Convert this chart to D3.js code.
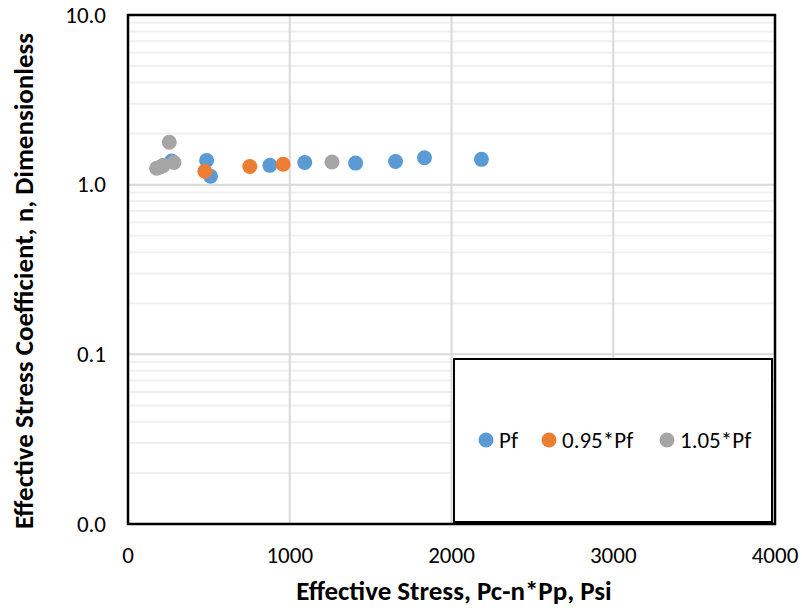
<!DOCTYPE html>
<html>
<head>
<meta charset="utf-8">
<script src="https://cdn.jsdelivr.net/npm/d3@7"></script>
<style>
  body { margin: 0; background: #fff; }
  text { font-family: Carlito, "Open Sans", "Liberation Sans", sans-serif; fill: #000; }
</style>
</head>
<body>
<div id="chart"></div>
<script>
// data
const seriesNames = ['Pf', '0.95*Pf', '1.05*Pf'];
const pfX = [270, 486, 510, 877, 1093, 1407, 1654, 1833, 2185];
const pfY = [1.38, 1.39, 1.12, 1.30, 1.35, 1.34, 1.37, 1.44, 1.41];
const p95X = [475, 753, 959];
const p95Y = [1.20, 1.28, 1.32];
const p105X = [177, 200, 218, 255, 284, 1261];
const p105Y = [1.25, 1.27, 1.30, 1.78, 1.35, 1.36];
const xTicks = [0, 1000, 2000, 3000, 4000];
const yTicks = [0.01, 0.1, 1, 10];

const colors = ['#5b9bd5', '#ed7d31', '#a5a5a5'];
const width = 802, height = 608;
const margin = { top: 15, right: 27, bottom: 84, left: 128 };

const svg = d3.select('#chart').append('svg')
  .attr('width', width)
  .attr('height', height);

const x = d3.scaleLinear().domain([0, 4000]).range([margin.left, width - margin.right]);
const y = d3.scaleLog().domain([0.01, 10]).range([height - margin.bottom, margin.top]);

// minor horizontal grid (2..9 in each decade)
const minor = [];
[0.01, 0.1, 1].forEach(d => { for (let k = 2; k <= 9; k++) minor.push(d * k); });
svg.append('g').selectAll('line').data(minor).enter().append('line')
  .attr('x1', x(0)).attr('x2', x(4000))
  .attr('y1', d => y(d)).attr('y2', d => y(d))
  .attr('stroke', '#f0f0f0').attr('stroke-width', 2);

// major grid
svg.append('g').selectAll('line').data([0.1, 1]).enter().append('line')
  .attr('x1', x(0)).attr('x2', x(4000))
  .attr('y1', d => y(d)).attr('y2', d => y(d))
  .attr('stroke', '#d9d9d9').attr('stroke-width', 2);
svg.append('g').selectAll('line').data([1000, 2000, 3000]).enter().append('line')
  .attr('y1', y(0.01)).attr('y2', y(10))
  .attr('x1', d => x(d)).attr('x2', d => x(d))
  .attr('stroke', '#d9d9d9').attr('stroke-width', 2);

// frame
svg.append('rect')
  .attr('x', x(0)).attr('y', y(10))
  .attr('width', x(4000) - x(0)).attr('height', y(0.01) - y(10))
  .attr('fill', 'none').attr('stroke', '#000').attr('stroke-width', 2.5);

// tick labels
svg.append('g').selectAll('text').data(yTicks).enter().append('text')
  .attr('x', x(0) - 22).attr('y', d => y(d))
  .attr('dy', '0.33em').attr('text-anchor', 'end')
  .style('font-size', '23px')
  .text(d => d3.format('.1f')(d));

svg.append('g').selectAll('text').data(xTicks).enter().append('text')
  .attr('x', d => x(d)).attr('y', 563)
  .attr('text-anchor', 'middle')
  .style('font-size', '23px')
  .text(d => d);

// axis titles
svg.append('text')
  .attr('x', 454).attr('y', 600)
  .attr('text-anchor', 'middle')
  .style('font-size', '27px').style('font-weight', 'bold')
  .text('Effective Stress, Pc-n*Pp, Psi');

svg.append('text')
  .attr('transform', 'translate(33, 281) rotate(-90)')
  .attr('text-anchor', 'middle')
  .style('font-size', '27px').style('font-weight', 'bold')
  .text('Effective Stress Coefficient, n, Dimensionless');

// legend box
const legend = svg.append('g');
legend.append('rect')
  .attr('x', 454).attr('y', 359).attr('width', 318).attr('height', 163)
  .attr('fill', '#fff').attr('stroke', '#000').attr('stroke-width', 2);

const legendX = [486, 549, 667];
seriesNames.forEach((name, i) => {
  legend.append('circle')
    .attr('cx', legendX[i]).attr('cy', 440).attr('r', 7.5)
    .attr('fill', colors[i]);
  legend.append('text')
    .attr('x', legendX[i] + 13).attr('y', 440)
    .attr('dy', '0.35em')
    .style('font-size', '23px')
    .text(name);
});

// points
const series = [
  { xs: pfX, ys: pfY },
  { xs: p95X, ys: p95Y },
  { xs: p105X, ys: p105Y }
];
series.forEach((s, i) => {
  svg.append('g').selectAll('circle').data(s.xs).enter().append('circle')
    .attr('cx', d => x(d))
    .attr('cy', (d, j) => y(s.ys[j]))
    .attr('r', 7.5)
    .attr('fill', colors[i]);
});
</script>
</body>
</html>
